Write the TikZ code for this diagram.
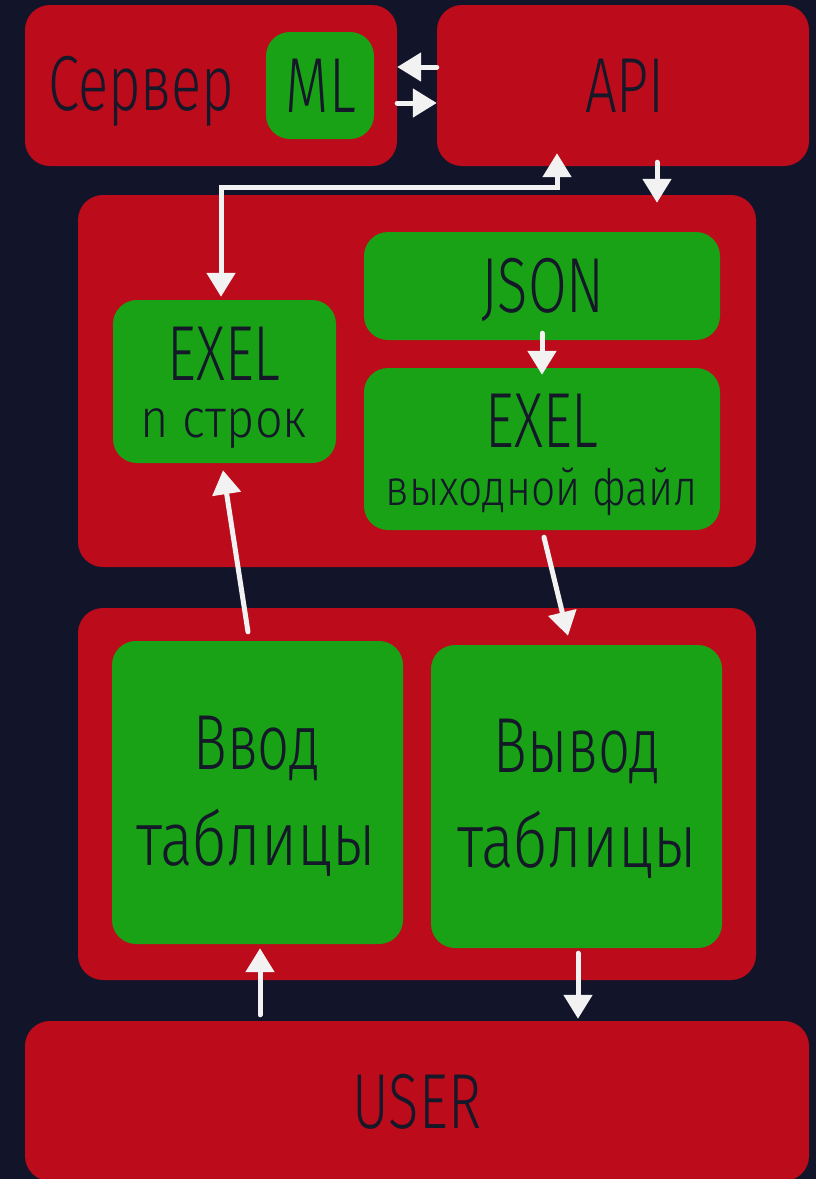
\documentclass[tikz,border=0pt]{standalone}
\usepackage{fontspec}
\setmainfont{Fira Sans}[UprightFont={* Light}, FakeStretch=0.72]
\usetikzlibrary{arrows.meta}
\definecolor{tfond}{HTML}{12152A}
\definecolor{trouge}{HTML}{BC0B1B}
\definecolor{tvert}{HTML}{19A216}
\definecolor{tencre}{HTML}{141828}
\definecolor{tblanc}{HTML}{F2F2F2}

\begin{document}
\begin{tikzpicture}[
    x=1pt, y=-1pt,
    bloc/.style={rectangle, rounded corners=25pt, fill=trouge, inner sep=0pt},
    module/.style={rectangle, rounded corners=24pt, fill=tvert, inner sep=0pt},
    texte/.style={anchor=base, inner sep=0pt, text=tencre,
                  font=\fontsize{78}{90}\selectfont},
    large/.style={texte, font=\fontsize{76}{90}\selectfont\addfontfeature{FakeStretch=0.8}},
    petit/.style={texte, font=\fontsize{54}{60}\selectfont\addfontfeature{FakeStretch=0.9}},
    fleche/.style={-{Triangle[length=24pt,width=28pt]}, line width=5pt,
                   line cap=round, tblanc}
  ]
  \fill[tfond] (0,0) rectangle (816,1179);
  \useasboundingbox (0,0) rectangle (816,1179);

  % haut
  \node[bloc, minimum width=372pt, minimum height=161pt] (serveur) at (211,85.5) {};
  \node[module, minimum width=108pt, minimum height=107pt] (ml) at (320,85.5) {};
  \node[bloc, minimum width=372pt, minimum height=161pt] (api) at (623,85.5) {};
  \node[texte] (t-serveur) at (141.5,110) {Сервер};
  \node[texte] (t-ml) at (321,112) {ML};
  \node[texte] (t-api) at (625,112) {API};

  % milieu
  \node[bloc, minimum width=678pt, minimum height=372pt] (milieu) at (417,381) {};
  \node[module, minimum width=356pt, minimum height=108pt] (json) at (542,286) {};
  \node[module, minimum width=223pt, minimum height=163pt] (exeln) at (224.5,381.5) {};
  \node[module, minimum width=356pt, minimum height=162pt] (sortie) at (542,449) {};
  \node[texte] (t-json) at (543,312) {JSON};
  \node[texte] (t-exeln) at (224,380) {EXEL};
  \node[petit] (t-lignes) at (224,437) {n строк};
  \node[texte] (t-sortie) at (542,447) {EXEL};
  \node[petit, font=\fontsize{50}{54}\selectfont\addfontfeature{FakeStretch=0.85}] (t-fichier) at (542,505) {выходной файл};

  % bas
  \node[bloc, minimum width=678pt, minimum height=372pt] (bas) at (417,794) {};
  \node[module, minimum width=291pt, minimum height=303pt] (vvod) at (257.5,792.5) {};
  \node[module, minimum width=291pt, minimum height=303pt] (vyvod) at (576.5,796.5) {};
  \node[texte] (t-vvod) at (257,769) {Ввод};
  \node[large] (t-tab1) at (256,865) {таблицы};
  \node[texte] (t-vyvod) at (577,772) {Вывод};
  \node[large] (t-tab2) at (577,867) {таблицы};

  \node[bloc, minimum width=784pt, minimum height=160pt] (user) at (417,1101) {};
  \node[texte] (t-user) at (417,1128) {USER};

  % fleches
  \draw[fleche] ([yshift=18.5pt]api.west) -- ([yshift=18.5pt]serveur.east);
  \draw[fleche] ([yshift=-17.5pt]serveur.east) -- ([yshift=-17.5pt]api.west);
  \draw[fleche] ([xshift=34pt,yshift=4pt]api.south) -- ([xshift=240pt,yshift=-8pt]milieu.north);
  \draw[fleche, {Triangle[length=24pt,width=28pt]}-{Triangle[length=24pt,width=28pt]}]
    ([xshift=-66pt,yshift=13pt]api.south) -- ++(0,34) -| ([xshift=-3.5pt,yshift=3pt]exeln.north);
  \draw[fleche] ([yshift=7pt]json.south) -- ([yshift=-7pt]sortie.north);
  \draw[fleche] ([xshift=-9.5pt,yshift=9pt]vvod.north) -- ([xshift=-1.5pt,yshift=-7pt]exeln.south);
  \draw[fleche] ([xshift=2pt,yshift=-7pt]sortie.south) -- ([xshift=-8.5pt,yshift=9pt]vyvod.north);
  \draw[fleche] ([xshift=-157pt,yshift=6pt]user.north) -- ([xshift=2.5pt,yshift=-4pt]vvod.south);
  \draw[fleche] ([xshift=1.5pt,yshift=-5pt]vyvod.south) -- ([xshift=161pt,yshift=2pt]user.north);
\end{tikzpicture}
\end{document}
